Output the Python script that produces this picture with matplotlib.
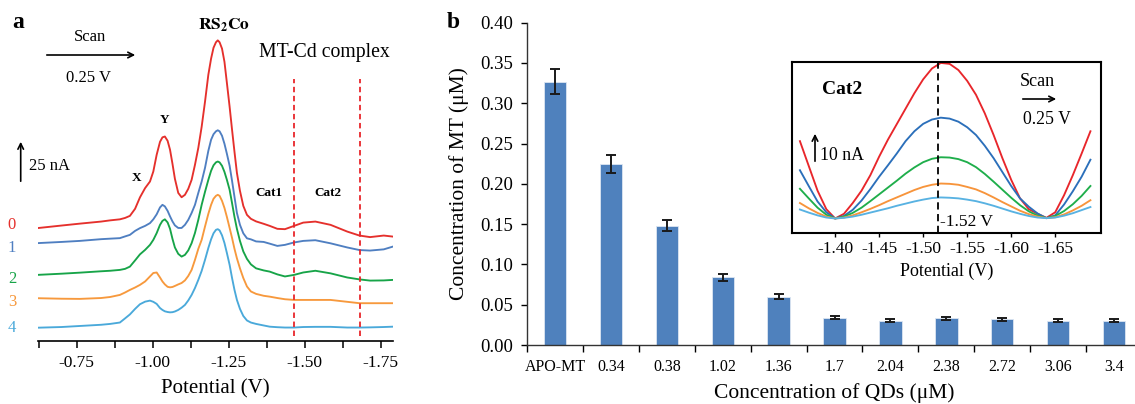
import matplotlib
matplotlib.use("Agg")
from matplotlib import pyplot as plt
import numpy as np

plt.rcParams['font.family'] = ['Liberation Serif', 'DejaVu Serif']
plt.rcParams['mathtext.fontset'] = 'stix'
plt.rcParams['lines.solid_joinstyle'] = 'round'

W, H = 1135, 404

# ---- panel a: voltammograms (potential in V, current in nA) ----
potential_a = [-0.62, -0.70, -0.76, -0.83, -0.86,
               -0.892, -0.909, -0.925, -0.942, -0.958, -0.975, -0.991, -1.002, -1.013, -1.024,
               -1.032, -1.040, -1.049, -1.057, -1.065, -1.073, -1.084, -1.095, -1.106, -1.117,
               -1.128, -1.139, -1.150, -1.161, -1.172, -1.183, -1.192, -1.200, -1.208, -1.214,
               -1.220, -1.228, -1.236, -1.244, -1.253, -1.261, -1.269, -1.277, -1.287, -1.298,
               -1.310, -1.323, -1.340,
               -1.365, -1.385, -1.41, -1.435, -1.465, -1.495, -1.535, -1.585, -1.64, -1.68,
               -1.715, -1.76, -1.79]

curr_0 = [65.4, 66.9, 68.0, 69.2, 69.9,
          70.5, 71.3, 72.5, 76.6, 83.2, 88.6, 92.4, 98.2, 107.9, 115.4,
          118.0, 118.5, 116.0, 110.8, 102.7, 94.0, 85.8, 83.3, 84.7, 88.2,
          93.4, 102.1, 111.9, 124.1, 138.6, 154.3, 163.6, 169.9, 173.1, 174.2,
          173.1, 169.4, 161.8, 149.6, 135.7, 122.4, 109.6, 97.4, 87.0, 78.3,
          73.1, 70.8, 69.3,
          67.9, 66.7, 65.0, 64.8, 66.7, 68.6, 69.2, 67.3, 63.4, 61.1, 60.2, 61.1, 60.5]
curr_1 = [56.7, 57.4, 58.0, 59.0, 59.3,
          59.6, 60.6, 61.5, 63.8, 65.4, 66.7, 68.3, 70.5, 73.4, 77.4,
          78.9, 78.0, 75.4, 72.2, 69.3, 67.0, 65.5, 65.5, 67.3, 70.2,
          74.2, 78.9, 85.8, 92.4, 100.3, 110.2, 116.6, 119.8, 121.5, 122.1,
          121.5, 118.9, 114.3, 108.5, 101.5, 92.8, 83.5, 74.2, 67.3, 62.4,
          59.5, 58.9, 57.7,
          57.4, 56.4, 55.1, 55.7, 57.1, 58.0, 58.4, 56.6, 54.2, 52.7, 52.4, 53.1, 54.7]
curr_2 = [38.3, 39.0, 39.6, 40.4, 40.7,
          41.2, 41.8, 43.1, 46.7, 50.2, 52.8, 55.7, 58.6, 62.5, 67.3,
          69.6, 70.5, 68.7, 65.0, 59.2, 54.2, 50.5, 48.9, 49.9, 52.5,
          56.7, 62.6, 70.2, 78.9, 86.4, 93.4, 98.6, 101.8, 103.5, 104.0,
          103.5, 101.5, 98.0, 93.4, 87.6, 79.9, 71.9, 65.0, 58.0, 51.9,
          47.6, 44.4, 42.1,
          40.9, 40.2, 38.6, 37.4, 38.3, 39.7, 40.7, 39.2, 36.8, 35.7, 35.0, 35.1, 35.4]
curr_3 = [24.8, 24.5, 24.4, 24.9, 25.5,
          26.7, 28.1, 29.6, 31.0, 32.5, 34.5, 37.4, 39.4, 39.7, 36.8,
          34.5, 32.8, 31.4, 31.1, 31.3, 31.9, 32.8, 33.6, 35.1, 37.7,
          41.2, 47.0, 53.4, 58.6, 66.3, 73.7, 78.9, 82.4, 84.1, 84.7,
          84.1, 81.2, 77.1, 71.9, 65.5, 59.7, 53.4, 47.9, 42.1, 36.5,
          31.6, 28.7, 27.3,
          26.2, 25.7, 24.9, 24.2, 23.8, 23.8, 23.8, 23.8, 22.7, 21.9, 21.9, 21.9, 21.9]
curr_4 = [7.7, 8.1, 8.7, 9.4, 9.9,
          10.7, 13.1, 15.4, 18.6, 21.3, 22.8, 23.4, 22.7, 21.5, 19.1,
          18.0, 17.2, 16.8, 16.6, 16.7, 17.1, 18.0, 19.3, 20.9, 23.5,
          26.7, 30.7, 35.4, 40.6, 47.0, 53.9, 58.9, 62.4, 64.4, 64.8,
          64.1, 61.2, 56.8, 51.0, 44.1, 36.5, 29.6, 23.8, 18.6, 14.5,
          11.9, 10.7, 9.9,
          9.0, 8.3, 8.0, 7.8, 7.8, 8.1, 8.2, 8.2, 7.8, 7.8, 7.9, 8.1, 8.3]
curves_a = [curr_0, curr_1, curr_2, curr_3, curr_4]
curve_names = ['0', '1', '2', '3', '4']
cat_bounds = [-1.465, -1.683]

# ---- inset: Cat2 peak ----
potential_in = [-1.36, -1.37, -1.38, -1.39, -1.40, -1.41, -1.42, -1.43, -1.44, -1.45,
                -1.46, -1.47, -1.48, -1.49, -1.50, -1.51, -1.52, -1.53, -1.54, -1.55,
                -1.56, -1.57, -1.58, -1.59, -1.60, -1.61, -1.62, -1.63, -1.64, -1.65,
                -1.66, -1.67, -1.68, -1.69]
cat2_0 = [25.0, 17.0, 9.0, 3.0, 0.0, 1.5, 5.0, 9.0, 14.0, 20.0,
          25.5, 30.5, 35.5, 40.5, 45.0, 48.5, 50.3, 50.0, 48.0, 44.5,
          40.0, 34.0, 27.0, 19.5, 12.5, 6.5, 3.0, 1.5, 0.2, 2.0,
          7.5, 14.0, 21.0, 28.2]
cat2_1 = [15.6, 10.5, 5.5, 2.0, 0.0, 0.8, 2.8, 5.8, 9.5, 13.5,
          17.2, 21.0, 25.0, 28.2, 30.6, 32.0, 32.6, 32.3, 31.3, 29.5,
          27.0, 23.5, 19.5, 15.0, 10.5, 6.5, 3.8, 1.6, 0.1, 1.0,
          4.5, 8.8, 13.5, 19.0]
cat2_2 = [9.6, 6.5, 3.5, 1.2, 0.0, 0.6, 1.8, 3.5, 5.6, 7.8,
          10.0, 12.2, 14.5, 16.5, 18.2, 19.3, 19.8, 19.7, 19.2, 18.2,
          16.6, 14.4, 11.9, 9.3, 6.7, 4.3, 2.3, 0.9, 0.1, 0.8,
          2.4, 4.6, 7.3, 10.5]
cat2_3 = [5.0, 3.3, 1.8, 0.6, 0.0, 0.3, 1.0, 2.0, 3.1, 4.3,
          5.6, 6.8, 8.0, 9.2, 10.2, 10.9, 11.3, 11.2, 10.9, 10.2,
          9.4, 8.2, 6.8, 5.3, 3.9, 2.5, 1.4, 0.6, 0.1, 0.4,
          1.3, 2.6, 4.1, 5.9]
cat2_4 = [2.9, 1.9, 1.0, 0.3, 0.0, 0.2, 0.6, 1.2, 1.9, 2.6,
          3.3, 4.1, 4.8, 5.5, 6.1, 6.6, 6.8, 6.7, 6.5, 6.1,
          5.6, 4.9, 4.1, 3.2, 2.3, 1.5, 0.8, 0.3, 0.1, 0.3,
          0.9, 1.7, 2.7, 3.7]
curves_in = [cat2_0, cat2_1, cat2_2, cat2_3, cat2_4]
cat2_peak = -1.517

# ---- panel b: bars ----
qd_labels = ['APO-MT', '0.34', '0.38', '1.02', '1.36', '1.7', '2.04', '2.38', '2.72', '3.06', '3.4']
mt_conc = [0.327, 0.225, 0.148, 0.084, 0.060, 0.034, 0.030, 0.033, 0.032, 0.030, 0.030]
mt_err = [0.016, 0.011, 0.007, 0.004, 0.003, 0.002, 0.002, 0.002, 0.002, 0.002, 0.002]

colors_a = ['#e5302c', '#4f7fc1', '#17a448', '#f7993d', '#4aa9da']
colors_in = ['#e8262b', '#2b6fba', '#1fae4b', '#f7943b', '#58b2e2']


def fx(px):
    return px / W


def fy(py):
    return 1 - py / H


def box(l, t, r, b):
    return [fx(l), fy(b), (r - l) / W, (b - t) / H]


def arrow(axis, x0, y0, x1, y1):
    axis.annotate('', xy=(fx(x1), fy(y1)), xytext=(fx(x0), fy(y0)), xycoords='figure fraction',
                  arrowprops=dict(arrowstyle='->', color='black', lw=1.2))


fig = plt.figure(figsize=(W / 100, H / 100), dpi=100)

# panel a
ax = fig.add_axes(box(37.7, 20, 393.3, 341))
for c, y in zip(colors_a, curves_a):
    ax.plot(potential_a, y, color=c, lw=1.35)
ax.vlines(cat_bounds, 3, 152, colors='#e8262b', linestyles=(0, (3, 2)), lw=1.3)
ax.set_xlim(-0.6217, -1.7914)
ax.set_ylim(0, 186)
for s in ['left', 'right', 'top']:
    ax.spines[s].set_visible(False)
ax.spines['bottom'].set_linewidth(1.2)
ax.set_yticks([])
ax.set_xticks([-0.75, -1.0, -1.25, -1.5, -1.75])
ax.set_xticklabels(['-0.75', '-1.00', '-1.25', '-1.50', '-1.75'], fontsize=12.5)
ax.set_xticks(np.arange(-0.625, -1.7, -0.25), minor=True)
ax.tick_params(axis='x', which='both', direction='out', length=5, width=1.1, pad=5)
ax.set_xlabel('Potential (V)', fontsize=15, labelpad=6)
ax.patch.set_alpha(0)

fig.text(fx(18), fy(22), 'a', fontsize=17, fontweight='bold', ha='center', va='center')
fig.text(fx(90), fy(37), 'Scan', fontsize=12, ha='center', va='center')
fig.text(fx(88), fy(78), '0.25 V', fontsize=12, ha='center', va='center')
arrow(ax, 44, 55, 138, 55)
arrow(ax, 20.7, 184, 20.7, 139)
fig.text(fx(29), fy(166), '25 nA', fontsize=12, ha='left', va='center')
fig.text(fx(224), fy(25), r'$\mathbf{RS_{2}Co}$', fontsize=12.5, ha='center', va='center')
fig.text(fx(324), fy(52), 'MT-Cd complex', fontsize=14.2, ha='center', va='center')
fig.text(fx(164), fy(120), 'Y', fontsize=9.5, fontweight='bold', ha='center', va='center')
fig.text(fx(137), fy(178), 'X', fontsize=9.5, fontweight='bold', ha='center', va='center')
fig.text(fx(269), fy(193), 'Cat1', fontsize=9.5, fontweight='bold', ha='center', va='center')
fig.text(fx(328), fy(193), 'Cat2', fontsize=9.5, fontweight='bold', ha='center', va='center')
for name, c, py in zip(curve_names, colors_a, [225, 248, 279, 302, 328]):
    fig.text(fx(12), fy(py), name, fontsize=12, color=c, ha='center', va='center')

# panel b
bx = fig.add_axes(box(527, 22.7, 1142, 345))
pos = np.arange(len(qd_labels))
bx.bar(pos, mt_conc, width=0.4, color='#4f81bd', edgecolor='#dce6f2', linewidth=0.6)
bx.errorbar(pos, mt_conc, yerr=mt_err, fmt='none', ecolor='#1a1a1a', elinewidth=1.4,
            capsize=3.5, capthick=1.4)
bx.set_xlim(-0.5, 10.5)
bx.set_ylim(0, 0.40)
yt = np.arange(0, 0.401, 0.05)
bx.set_yticks(yt)
bx.set_yticklabels([f'{v:.2f}' for v in yt], fontsize=13.5)
bx.set_xticks(pos)
bx.set_xticklabels(qd_labels, fontsize=11.5)
bx.set_xticks(np.arange(-0.5, 11, 1), minor=True)
bx.tick_params(axis='x', which='major', length=0, pad=10)
bx.tick_params(axis='x', which='minor', length=5, width=1, direction='out')
bx.tick_params(axis='y', length=4, width=1, direction='out', pad=6)
for s in ['right', 'top']:
    bx.spines[s].set_visible(False)
for s in ['left', 'bottom']:
    bx.spines[s].set_linewidth(1.0)
    bx.spines[s].set_color('#333333')
bx.set_ylabel('Concentration of MT (\u03bcM)', fontsize=15.5, labelpad=8)
bx.set_xlabel('Concentration of QDs (\u03bcM)', fontsize=15.5, labelpad=6)
fig.text(fx(453), fy(22), 'b', fontsize=17, fontweight='bold', ha='center', va='center')

# inset
ix = fig.add_axes(box(792, 62, 1101, 233))
ix.set_facecolor('white')
for c, y in zip(colors_in, curves_in):
    ix.plot(potential_in, y, color=c, lw=1.35)
ix.axvline(cat2_peak, color='black', ls=(0, (4, 2.5)), lw=1.3)
ix.set_xlim(-1.351, -1.702)
ix.set_ylim(-4.7, 50.6)
ix.set_yticks([])
ix.set_xticks([-1.40, -1.45, -1.50, -1.55, -1.60, -1.65])
ix.set_xticklabels(['-1.40', '-1.45', '-1.50', '-1.55', '-1.60', '-1.65'], fontsize=12.5)
ix.tick_params(axis='x', length=3, width=1, direction='out', pad=3)
for s in ix.spines.values():
    s.set_linewidth(1.5)
ix.set_xlabel('Potential (V)', fontsize=13, labelpad=4)
fig.text(fx(842), fy(90), 'Cat2', fontsize=14, fontweight='bold', ha='center', va='center')
fig.text(fx(820), fy(155), '10 nA', fontsize=12.8, ha='left', va='center')
arrow(ix, 815, 164, 815, 131)
fig.text(fx(1037), fy(82), 'Scan', fontsize=13, ha='center', va='center')
arrow(ix, 1020, 99, 1059, 99)
fig.text(fx(1047), fy(120), '0.25 V', fontsize=12.8, ha='center', va='center')
fig.text(fx(940), fy(222), '-1.52 V', fontsize=12.6, ha='left', va='center')

fig.savefig('out.png', dpi=100)
